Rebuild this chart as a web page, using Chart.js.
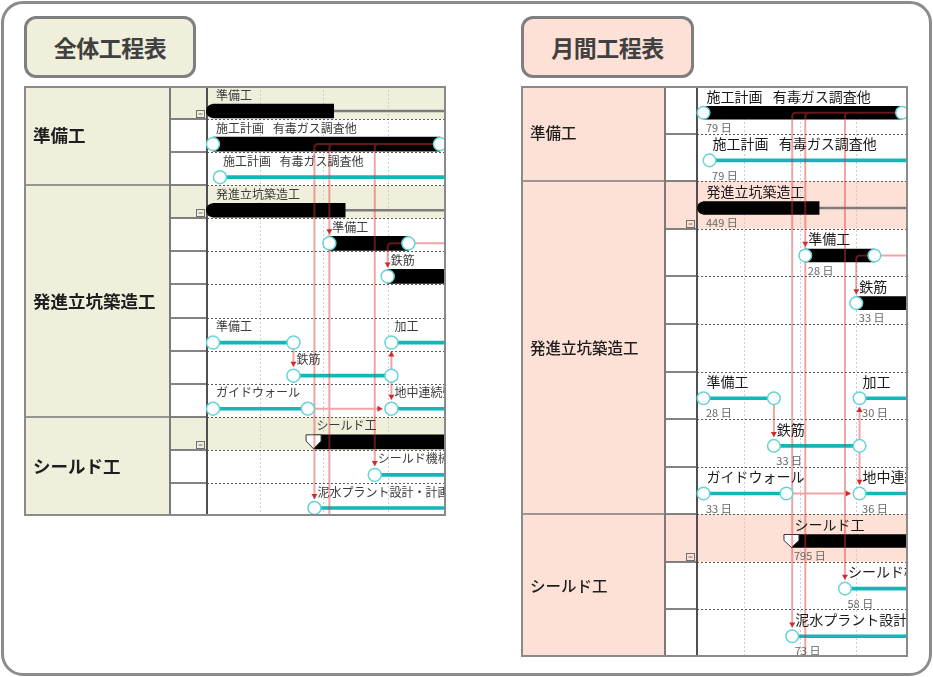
<!DOCTYPE html>
<html>
<head>
<meta charset="utf-8">
<script src="https://cdn.jsdelivr.net/npm/chart.js@4.4.1/dist/chart.umd.min.js"></script>
<style>
html,body{margin:0;padding:0;background:#fff;}
body{width:933px;height:677px;position:relative;overflow:hidden;font-family:"Noto Sans CJK JP",sans-serif;}
#frame{position:absolute;left:1px;top:1px;width:931px;height:675px;box-sizing:border-box;border:3px solid #8c8c8c;border-radius:22px;}
.title{position:absolute;top:16px;height:62px;box-sizing:border-box;border:3px solid #7f7f7f;border-radius:12px;display:flex;align-items:center;justify-content:center;font-weight:bold;font-size:23px;color:#404040;letter-spacing:-0.5px;}
#t1{left:24px;width:172px;background:#efefdc;}
#t2{left:521px;width:173px;background:#fde1d6;}
canvas{position:absolute;}
#c1{left:24px;top:86px;}
#c2{left:521px;top:86px;}
</style>
</head>
<body>
<div id="frame"></div>
<div class="title" id="t1">全体工程表</div>
<div class="title" id="t2">月間工程表</div>
<canvas id="c1" width="422" height="430"></canvas>
<canvas id="c2" width="387" height="571"></canvas>
<script>
// ---------- data ----------
const groupNames = ['準備工', '発進立坑築造工', 'シールド工'];
const leftGroupRows  = [[0, 2], [3, 9], [10, 12]];
const rightGroupRows = [[0, 1], [2, 8], [9, 11]];

const summaryNames = ['準備工', '発進立坑築造工', 'シールド工'];
const summaryStart = [0, 0, 35];
const summaryEnd   = [84, 449, 830];
const summaryDone  = [42, 46, 830];
const summaryDays  = [84, 449, 795];
const summaryMark  = ['round', 'round', 'shield'];
const leftSummaryRow  = [0, 3, 10];
const rightSummaryRow = [null, 2, 9];

const taskNames = ['施工計画\u2002 有毒ガス調査他', '施工計画\u2002 有毒ガス調査他', '準備工', '鉄筋', '準備工', '加工', '鉄筋', 'ガイドウォール', '地中連続壁', 'シールド機械製作', '泥水プラント設計・計画'];
const taskStart = [0, 2.4, 40.5, 60.8, 0, 62.1, 28, 0, 62.1, 56.3, 35.3];
const taskEnd   = [79, 84, 68, 93.8, 28, 92.1, 62.1, 33, 98.1, 114.3, 108.3];
const taskDays  = [79, 79, 28, 33, 28, 30, 33, 33, 36, 58, 73];
const taskKind  = ['bar', 'line', 'bar', 'bar', 'line', 'line', 'line', 'line', 'line', 'line', 'line'];
const leftTaskRow  = [1, 2, 4, 5, 7, 7, 8, 9, 9, 11, 12];
const rightTaskRow = [0, 1, 3, 4, 6, 6, 7, 8, 8, 10, 11];

const linkFrom = [0, 0, 0, 2, 4, 6, 6, 7];
const linkTo   = [2, 9, 10, 3, 6, 5, 8, 8];
const openLinkFrom = [0, 2];
const openLinkDay  = [40.5, null];   // null = runs out to the right

const gridDays = [16.3, 38.3, 60.8];

// ---------- drawing ----------
const FONT = '"Noto Sans CJK JP", "Noto Sans", sans-serif';

function makePanel(canvasId, P) {
  const rowPx = P.height / P.rows;
  const offV = P.barOff / rowPx;
  const barData = [], lineData = [], sumLine = [], sumDone = [];
  taskStart.forEach((s, i) => {
    const r = P.taskRow[i];
    if (r == null) return;
    const pt = {y: r + offV, x: [s, taskEnd[i]]};
    (taskKind[i] === 'bar' ? barData : lineData).push(pt);
  });
  summaryStart.forEach((s, i) => {
    const r = P.summaryRow[i];
    if (r == null) return;
    sumLine.push({y: r + offV, x: [s, summaryEnd[i]]});
    sumDone.push({y: r + offV, x: [s, summaryDone[i]]});
  });

  const plugin = {
    id: 'gantt_' + canvasId,
    beforeDraw(chart) {
      const ctx = chart.ctx, a = chart.chartArea, W = chart.width, H = chart.height;
      const xs = chart.scales.x, ys = chart.scales.y;
      const rowTop = r => ys.getPixelForValue(r - 0.5);
      const rowBot = r => ys.getPixelForValue(r + 0.5);
      const line = (x1, y1, x2, y2) => { ctx.beginPath(); ctx.moveTo(x1, y1); ctx.lineTo(x2, y2); ctx.stroke(); };
      ctx.save();
      ctx.fillStyle = '#fff'; ctx.fillRect(0, 0, W, H);
      ctx.fillStyle = P.fill; ctx.fillRect(0, 0, P.catRight, H);
      P.summaryRow.forEach(r => {
        if (r == null) return;
        ctx.fillRect(P.catRight, rowTop(r), a.right - P.catRight, rowBot(r) - rowTop(r));
      });
      ctx.lineWidth = 1; ctx.setLineDash([2, 2]); ctx.strokeStyle = '#cdcdcd';
      gridDays.forEach(d => { const x = Math.round(xs.getPixelForValue(d)) + 0.5; line(x, a.top, x, a.bottom); });
      ctx.strokeStyle = '#5a5a5a';
      for (let r = 0; r < P.rows - 1; r++) { const y = Math.round(rowBot(r)) + 0.5; line(a.left, y, a.right, y); }
      ctx.setLineDash([]);
      ctx.lineWidth = 1.5; ctx.strokeStyle = '#5a5a5a';
      for (let r = 0; r < P.rows - 1; r++) { const y = Math.round(rowBot(r)); line(P.catRight, y, a.left, y); }
      ctx.strokeStyle = '#7a7a7a';
      P.groupRows.slice(0, -1).forEach(g => { const y = Math.round(rowBot(g[1])); line(0, y, P.catRight, y); });
      ctx.lineWidth = 2; ctx.strokeStyle = '#7a7a7a'; line(P.catRight, 0, P.catRight, H);
      ctx.strokeStyle = '#505050'; line(a.left, 0, a.left, H);
      // collapse icons
      ctx.lineWidth = 1; ctx.strokeStyle = '#707070';
      P.summaryRow.forEach(r => {
        if (r == null) return;
        const x0 = Math.round(a.left) - 10.5, y0 = Math.round(rowBot(r)) - 8.5;
        ctx.strokeRect(x0, y0, 8, 7);
        line(x0 + 2, y0 + 3.5, x0 + 6, y0 + 3.5);
      });
      // group names
      ctx.fillStyle = '#1e1e1e'; ctx.font = P.catFont; ctx.textBaseline = 'middle'; ctx.textAlign = 'left';
      groupNames.forEach((n, i) => {
        const g = P.groupRows[i];
        ctx.fillText(n, P.catTextX, (rowTop(g[0]) + rowBot(g[1])) / 2);
      });
      ctx.restore();
    },
    afterDatasetsDraw(chart) {
      const ctx = chart.ctx, a = chart.chartArea, W = chart.width, H = chart.height;
      const xs = chart.scales.x, ys = chart.scales.y;
      const X = d => xs.getPixelForValue(d);
      const BY = r => ys.getPixelForValue(r + offV);
      const R = P.r, gap = 2.5, cr = 4;
      ctx.save();
      ctx.beginPath(); ctx.rect(a.left - 1, a.top, a.right - a.left + 1, a.bottom - a.top); ctx.clip();
      // summary markers
      summaryStart.forEach((s, i) => {
        const r = P.summaryRow[i];
        if (r == null) return;
        const x = X(s), y = BY(r), h = P.thick / 2;
        if (summaryMark[i] === 'round') {
          ctx.fillStyle = '#000'; ctx.beginPath(); ctx.arc(x, y, h, 0, Math.PI * 2); ctx.fill();
        } else {
          ctx.beginPath();
          ctx.moveTo(x - 7.5, y - h); ctx.lineTo(x + 7.5, y - h); ctx.lineTo(x + 7.5, y - h + P.thick * 0.45);
          ctx.lineTo(x, y + h); ctx.lineTo(x - 7.5, y - h + P.thick * 0.45); ctx.closePath();
          ctx.fillStyle = '#fff'; ctx.fill(); ctx.strokeStyle = '#333'; ctx.lineWidth = 1; ctx.stroke();
        }
      });
      // links
      const arrows = [];
      ctx.beginPath();
      linkFrom.forEach((f, k) => {
        const t = linkTo[k];
        const fx = X(taskEnd[f]), fy = BY(P.taskRow[f]);
        const tx = X(taskStart[t]), ty = BY(P.taskRow[t]);
        if (Math.abs(fy - ty) < 1) {
          ctx.moveTo(fx + R, fy); ctx.lineTo(tx - R - gap, ty);
          arrows.push([tx - R - gap, ty, 'right']);
        } else if (Math.abs(fx - tx) < 1.5) {
          if (ty > fy) { ctx.moveTo(tx, fy + R); ctx.lineTo(tx, ty - R - gap); arrows.push([tx, ty - R - gap, 'down']); }
          else { ctx.moveTo(tx, fy - R); ctx.lineTo(tx, ty + R + gap); arrows.push([tx, ty + R + gap, 'up']); }
        } else {
          const dir = tx < fx ? -1 : 1;
          ctx.moveTo(fx + dir * R, fy); ctx.lineTo(tx - dir * cr, fy);
          ctx.quadraticCurveTo(tx, fy, tx, fy + cr); ctx.lineTo(tx, ty - R - gap);
          arrows.push([tx, ty - R - gap, 'down']);
        }
      });
      openLinkFrom.forEach((f, k) => {
        const fx = X(taskEnd[f]), fy = BY(P.taskRow[f]);
        const d = openLinkDay[k];
        if (d == null) { ctx.moveTo(fx + R, fy); ctx.lineTo(a.right + 2, fy); }
        else {
          const tx = X(d);
          ctx.moveTo(fx - R, fy); ctx.lineTo(tx + cr, fy);
          ctx.quadraticCurveTo(tx, fy, tx, fy + cr); ctx.lineTo(tx, a.bottom + 2);
        }
      });
      ctx.strokeStyle = 'rgba(222,55,55,0.45)'; ctx.lineWidth = 2; ctx.stroke();
      // circles
      ctx.lineWidth = 1.5; ctx.strokeStyle = '#66d4d6'; ctx.fillStyle = '#fff';
      taskStart.forEach((s, i) => {
        const r = P.taskRow[i];
        if (r == null) return;
        [s, taskEnd[i]].forEach(d => {
          ctx.beginPath(); ctx.arc(X(d), BY(r), R, 0, Math.PI * 2); ctx.fill(); ctx.stroke();
        });
      });
      // arrow heads
      ctx.fillStyle = '#d02a2a';
      arrows.forEach(([x, y, dir]) => {
        ctx.beginPath();
        if (dir === 'down') { ctx.moveTo(x - 3, y - 5); ctx.lineTo(x + 3, y - 5); ctx.lineTo(x, y); }
        else if (dir === 'up') { ctx.moveTo(x - 3, y + 5); ctx.lineTo(x + 3, y + 5); ctx.lineTo(x, y); }
        else { ctx.moveTo(x - 5, y - 3); ctx.lineTo(x - 5, y + 3); ctx.lineTo(x, y); }
        ctx.closePath(); ctx.fill();
      });
      // labels
      ctx.textBaseline = 'middle'; ctx.textAlign = 'left';
      const label = (txt, d, r, days) => {
        ctx.font = P.labelFont; ctx.fillStyle = P.labelColor;
        ctx.fillText(txt, X(d) + 3, BY(r) + P.labelDy);
        if (P.showDays) {
          ctx.font = '11px ' + FONT; ctx.fillStyle = '#666';
          ctx.fillText(days + ' 日', X(d) + 2.5, BY(r) + 15);
        }
      };
      summaryStart.forEach((s, i) => { const r = P.summaryRow[i]; if (r != null) label(summaryNames[i], s, r, summaryDays[i]); });
      taskStart.forEach((s, i) => { const r = P.taskRow[i]; if (r != null) label(taskNames[i], s, r, taskDays[i]); });
      ctx.restore();
      // table border
      ctx.save();
      ctx.strokeStyle = '#8a8a8a'; ctx.lineWidth = 2; ctx.strokeRect(1, 1, W - 2, H - 2);
      ctx.restore();
    }
  };

  return new Chart(document.getElementById(canvasId), {
    type: 'bar',
    data: {
      datasets: [
        {data: sumDone, backgroundColor: '#000', barThickness: P.thick, grouped: false, clip: 0, order: 1},
        {data: barData, backgroundColor: '#000', barThickness: P.thick, grouped: false, clip: 0, order: 1},
        {data: lineData, backgroundColor: '#14b6b8', barThickness: 3, grouped: false, clip: 0, order: 2},
        {data: sumLine, backgroundColor: '#7c7c7c', barThickness: 2, grouped: false, clip: 0, order: 3}
      ]
    },
    options: {
      indexAxis: 'y',
      responsive: false,
      animation: false,
      events: [],
      devicePixelRatio: 1,
      layout: {padding: {left: P.padLeft, right: 0, top: 0, bottom: 0}},
      plugins: {legend: {display: false}, tooltip: {enabled: false}},
      scales: {
        x: {type: 'linear', min: P.xMin, max: P.xMax, display: false, offset: false},
        y: {type: 'linear', min: -0.5, max: P.rows - 0.5, reverse: true, display: false, offset: false, grid: {offset: false}}
      }
    },
    plugins: [plugin]
  });
}

makePanel('c1', {
  rows: 13, height: 430, catRight: 146, padLeft: 183, xMin: -2.1, xMax: 81.1,
  fill: '#f0efdc', barOff: 8.5, thick: 14, r: 6.5,
  labelFont: '12px ' + FONT, labelColor: '#3c3c3c', labelDy: -16,
  catFont: '600 17.5px ' + FONT, catTextX: 9, showDays: false,
  taskRow: leftTaskRow, summaryRow: leftSummaryRow, groupRows: leftGroupRows
});
makePanel('c2', {
  rows: 12, height: 571, catRight: 144, padLeft: 176, xMin: -2.59, xMax: 81.38,
  fill: '#fde1d6', barOff: 3, thick: 13, r: 6.3,
  labelFont: '14px ' + FONT, labelColor: '#1a1a1a', labelDy: -16.5,
  catFont: '500 15.5px ' + FONT, catTextX: 9, showDays: true,
  taskRow: rightTaskRow, summaryRow: rightSummaryRow, groupRows: rightGroupRows
});
</script>
</body>
</html>
